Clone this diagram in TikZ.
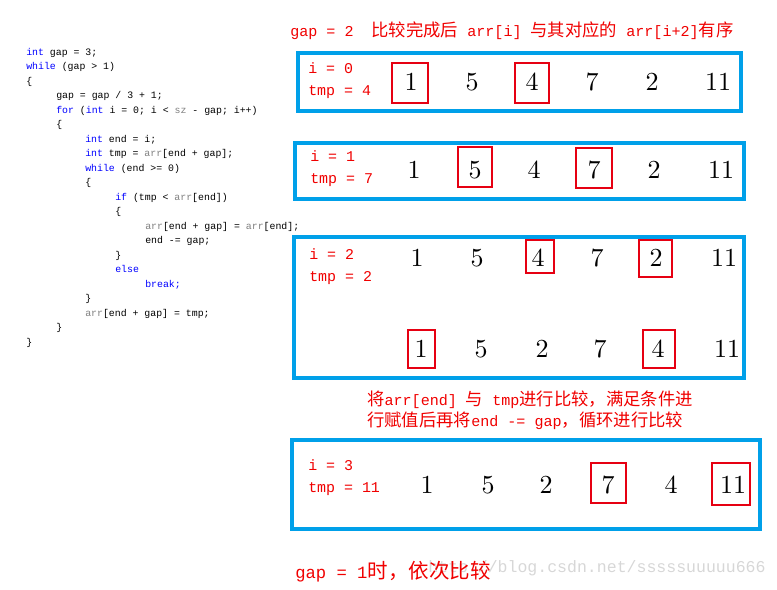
\documentclass[tikz,border=0pt]{standalone}
\usepackage{graphicx}
\usepackage{fontspec}
\setmonofont{Liberation Mono}
\newfontfamily\cjk{Noto Sans CJK SC}
\definecolor{kwc}{RGB}{0,0,255}
\definecolor{cg}{RGB}{128,128,128}
\definecolor{rtxt}{RGB}{240,0,0}
\definecolor{rbx}{RGB}{230,0,18}
\definecolor{bbx}{RGB}{0,160,233}
\definecolor{wmc}{RGB}{215,215,215}
\newcommand\kw[1]{\textcolor{kwc}{#1}}
\newcommand\ga[1]{\textcolor{cg}{#1}}
\newcommand\zha[1]{{\cjk\fontsize{13}{14}\selectfont #1}}
\newcommand\zhb[1]{{\cjk\fontsize{15.4}{17}\selectfont #1}}
\newcommand\dg[1]{\scalebox{1.95}{#1}}
\begin{document}
\begin{tikzpicture}[x=0.75pt,y=-0.75pt,
 code/.style={anchor=west,inner sep=0pt,font=\fontsize{7.4}{8}\ttfamily,text height=5pt,text depth=1.5pt},
 lbl/.style={anchor=west,inner sep=0pt,text=rtxt,font=\fontsize{11.2}{13}\ttfamily,text height=7pt,text depth=2pt},
 ttl/.style={anchor=west,inner sep=0pt,text=rtxt,font=\fontsize{11.3}{13}\ttfamily},
 num/.style={inner sep=0pt,font=\fontsize{10}{12}\selectfont},
 bbox/.style={draw=bbx,line width=2.3pt},
 rbox/.style={draw=rbx,line width=2.2pt}]
\useasboundingbox (0,0) rectangle (777,589);

% code listing
\node[code] (c0) at (26,53) {\kw{int}~gap~=~3;};
\node[code] (c1) at (26,67.5) {\kw{while}~(gap~>~1)};
\node[code] (c2) at (26,82) {\{};
\node[code] (c3) at (56,96.5) {gap~=~gap~/~3~+~1;};
\node[code] (c4) at (56,111) {\kw{for}~(\kw{int}~i~=~0;~i~<~\ga{sz}~-~gap;~i++)};
\node[code] (c5) at (56,125.5) {\{};
\node[code] (c6) at (85,140) {\kw{int}~end~=~i;};
\node[code] (c7) at (85,154.5) {\kw{int}~tmp~=~\ga{arr}[end~+~gap];};
\node[code] (c8) at (85,169) {\kw{while}~(end~>=~0)};
\node[code] (c9) at (85,183.5) {\{};
\node[code] (c10) at (115,198) {\kw{if}~(tmp~<~\ga{arr}[end])};
\node[code] (c11) at (115,212.5) {\{};
\node[code] (c12) at (145,227) {\ga{arr}[end~+~gap]~=~\ga{arr}[end];};
\node[code] (c13) at (145,241.5) {end~-=~gap;};
\node[code] (c14) at (115,256) {\}};
\node[code] (c15) at (115,270.5) {\kw{else}};
\node[code] (c16) at (145,285) {\kw{break;}};
\node[code] (c17) at (85,299.5) {\}};
\node[code] (c18) at (85,314) {\ga{arr}[end~+~gap]~=~tmp;};
\node[code] (c19) at (56,328.5) {\}};
\node[code] (c20) at (26,343) {\}};

% title
\node[ttl] (title) at (290,31) {gap~=~2~~\zha{比较完成后}~arr[i]~\zha{与其对应的}~arr[i+2]\zha{有序}};

% box 1
\draw[bbox] (298,53) rectangle (741,111);
\node[lbl] (l1a) at (308,70) {i~=~0};
\node[lbl] (l1b) at (308,92) {tmp~=~4};
\draw[rbox] (392,63) rectangle (428,103);
\draw[rbox] (515,63) rectangle (549,103);
\node[num] (a1) at (411,82) {\dg{1}};
\node[num] (a2) at (472,82) {\dg{5}};
\node[num] (a3) at (532,82) {\dg{4}};
\node[num] (a4) at (592,82) {\dg{7}};
\node[num] (a5) at (652,82) {\dg{2}};
\node[num] (a6) at (718,82) {\dg{11}};

% box 2
\draw[bbox] (295,143) rectangle (744,199);
\node[lbl] (l2a) at (310,158) {i~=~1};
\node[lbl] (l2b) at (310,180) {tmp~=~7};
\draw[rbox] (458,147) rectangle (492,187);
\draw[rbox] (576,148) rectangle (612,188);
\node[num] (b1) at (414,170) {\dg{1}};
\node[num] (b2) at (475,170) {\dg{5}};
\node[num] (b3) at (534,170) {\dg{4}};
\node[num] (b4) at (594,170) {\dg{7}};
\node[num] (b5) at (654,170) {\dg{2}};
\node[num] (b6) at (721,170) {\dg{11}};

% box 3
\draw[bbox] (294,237) rectangle (744,378);
\node[lbl] (l3a) at (309,256) {i~=~2};
\node[lbl] (l3b) at (309,278) {tmp~=~2};
\draw[rbox] (526,240) rectangle (554,273);
\draw[rbox] (639,240) rectangle (672,277);
\node[num] (d1) at (417,258) {\dg{1}};
\node[num] (d2) at (477,258) {\dg{5}};
\node[num] (d3) at (538,258) {\dg{4}};
\node[num] (d4) at (597,258) {\dg{7}};
\node[num] (d5) at (656,258) {\dg{2}};
\node[num] (d6) at (724,258) {\dg{11}};
\draw[rbox] (408,330) rectangle (435,368);
\draw[rbox] (643,330) rectangle (675,368);
\node[num] (e1) at (421,349) {\dg{1}};
\node[num] (e2) at (481,349) {\dg{5}};
\node[num] (e3) at (542,349) {\dg{2}};
\node[num] (e4) at (600,349) {\dg{7}};
\node[num] (e5) at (658,349) {\dg{4}};
\node[num] (e6) at (727,349) {\dg{11}};

% middle note
\node[ttl] (m1) at (367,400) {\zha{将}arr[end]~\zha{与}~tmp\zha{进行比较，满足条件进}};
\node[ttl] (m2) at (367,421) {\zha{行赋值后再将}end~-=~gap\zha{，循环进行比较}};

% box 4
\draw[bbox] (292,440) rectangle (760,529);
\node[lbl] (l4a) at (308,467) {i~=~3};
\node[lbl] (l4b) at (308,489) {tmp~=~11};
\draw[rbox] (591,463) rectangle (626,503);
\draw[rbox] (712,463) rectangle (750,505);
\node[num] (f1) at (427,485) {\dg{1}};
\node[num] (f2) at (488,485) {\dg{5}};
\node[num] (f3) at (546,485) {\dg{2}};
\node[num] (f4) at (608,485) {\dg{7}};
\node[num] (f5) at (671,485) {\dg{4}};
\node[num] (f6) at (733,485) {\dg{11}};

% watermark
\node[anchor=west,inner sep=0pt,text=wmc,font=\fontsize{12.4}{14}\ttfamily] (wm) at (428,568) {http://blog.csdn.net/sssssuuuuu666};

% bottom note
\node[anchor=west,inner sep=0pt,text=rtxt,font=\fontsize{12.9}{15}\ttfamily] (bot) at (295,572) {gap~=~1\zhb{时，依次比较}};
\end{tikzpicture}
\end{document}
